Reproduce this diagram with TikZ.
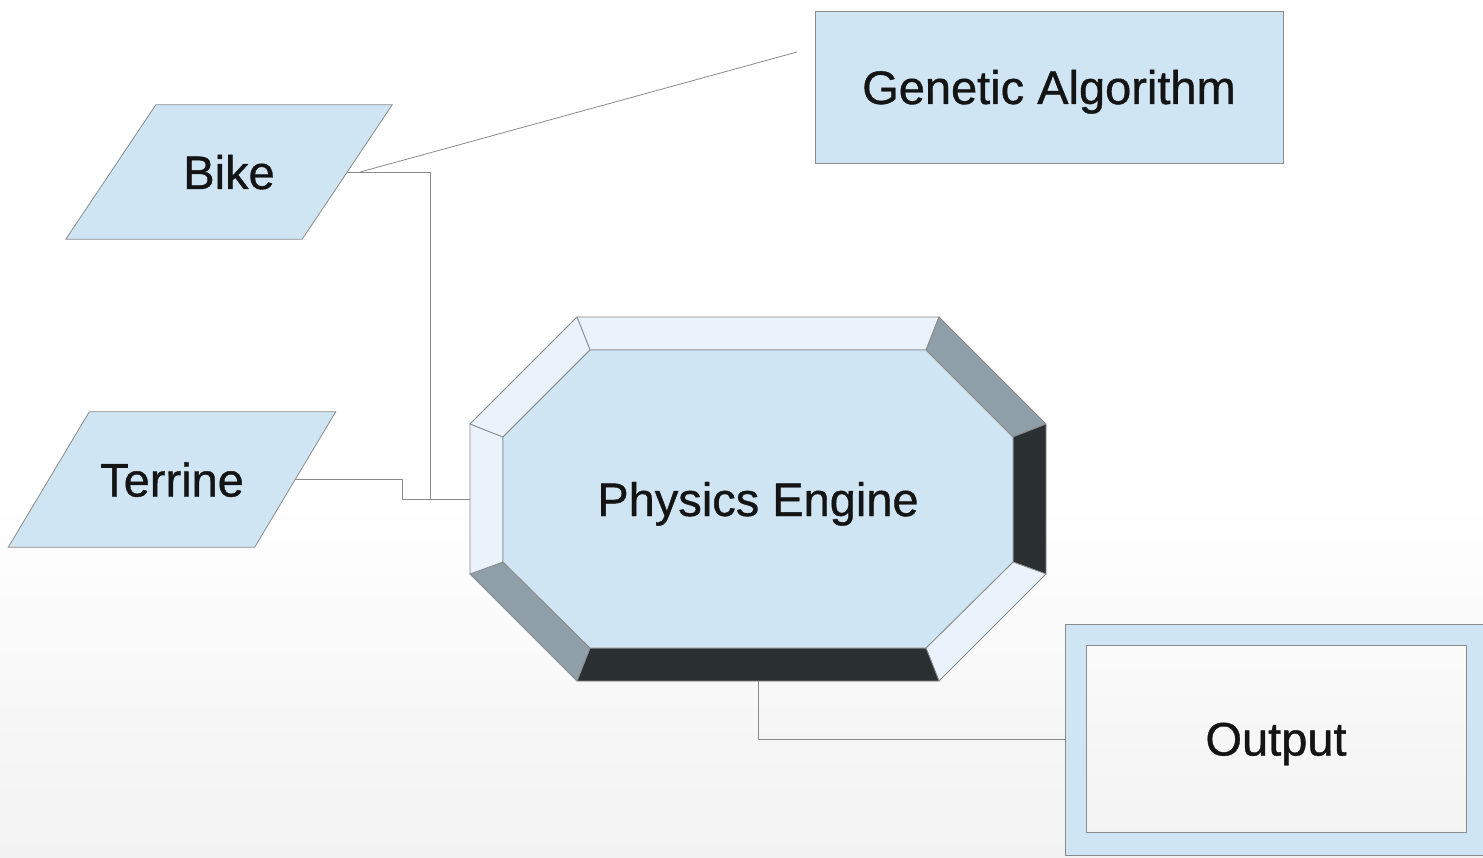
\documentclass[tikz,border=0pt]{standalone}
\usepackage{fontspec}
\setmainfont{Liberation Sans}[FakeBold=0.8]
\usepackage{tikz}
\usetikzlibrary{backgrounds}
\definecolor{boxblue}{HTML}{CFE5F3}
\definecolor{bevellite}{HTML}{EAF3FB}
\definecolor{bevelmid}{HTML}{8F9FA8}
\definecolor{beveldark}{HTML}{2A2F31}
\definecolor{edgegray}{HTML}{8A8A8A}
\definecolor{bgbottom}{HTML}{F2F2F2}

\begin{document}
\begin{tikzpicture}[x=1pt, y=-1pt, line join=bevel,
    every node/.style={font=\fontsize{47}{56}\selectfont, text=black!92,
        text height=34pt, text depth=0pt},
    inputbox/.style={rectangle, inner sep=0pt, minimum height=134},
    plainbox/.style={rectangle, draw=edgegray, fill=boxblue, line width=.8pt},
    facet/.style={draw=edgegray, line width=.8pt},
    link/.style={draw=edgegray, line width=.8pt}]
        \useasboundingbox (0,0) rectangle (1483,858);

        \node[inputbox, minimum width=236] (bike) at (229,172) {Bike};
        \node[inputbox, minimum width=246, minimum height=135] (terr) at (172,479.5) {Terrine};
        \node[plainbox, minimum width=468, minimum height=152] (ga) at (1049,87) {Genetic Algorithm};
        \coordinate (ga tip) at (797,52);

        \begin{scope}[on background layer]
            \fill[white] (0,0) rectangle (1483,500);
            \shade[top color=white, bottom color=bgbottom] (0,500) rectangle (1483,858);
            \foreach \n/\s in {bike/45, terr/40.5}
                \filldraw[facet, fill=boxblue] ([xshift=-\s]\n.south west) -- ([xshift=-\s]\n.south east)
                    -- ([xshift=\s]\n.north east) -- ([xshift=\s]\n.north west) -- cycle;
        \end{scope}

        \coordinate (pc) at (758,499);
        \begin{scope}[shift={(pc)}]
            \path (-181,-182) coordinate (o1) (181,-182) coordinate (o2)
                  (288,-75) coordinate (o3) (288,75) coordinate (o4)
                  (181,182) coordinate (o5) (-181,182) coordinate (o6)
                  (-288,75) coordinate (o7) (-288,-75) coordinate (o8);
            \path (-168,-149) coordinate (i1) (168,-149) coordinate (i2)
                  (255,-62) coordinate (i3) (255,63) coordinate (i4)
                  (168,149) coordinate (i5) (-168,149) coordinate (i6)
                  (-255,63) coordinate (i7) (-255,-62) coordinate (i8);
        \end{scope}
        \foreach \a/\b/\c in {1/2/bevellite, 2/3/bevelmid, 3/4/beveldark, 4/5/bevellite,
                              5/6/beveldark, 6/7/bevelmid, 7/8/bevellite, 8/1/bevellite}
            \filldraw[facet, fill=\c] (o\a) -- (o\b) -- (i\b) -- (i\a) -- cycle;
        \filldraw[facet, fill=boxblue] (i1) -- (i2) -- (i3) -- (i4) -- (i5) -- (i6) -- (i7) -- (i8) -- cycle;
        \node[minimum width=576, minimum height=364, inner sep=0pt] (phys) at (pc) {Physics Engine};

        \node[plainbox, minimum width=425, minimum height=231] (outbox) at (1277.5,739.5) {};
        \node[draw=edgegray, line width=.8pt, top color=bgbottom!35!white, bottom color=bgbottom!90!white,
              minimum width=380, minimum height=187] (out) at (1276,738.5) {Output};

        \draw[link] ([xshift=13pt]bike.east) -- (ga tip);
        \draw[link] (bike.east) -| ([xshift=-39pt]phys.west) -- (phys.west);
        \draw[link] (terr.east) -- ++(107,0) |- (phys.west);
        \draw[link] (phys.south) |- (outbox.west);
\end{tikzpicture}
\end{document}
